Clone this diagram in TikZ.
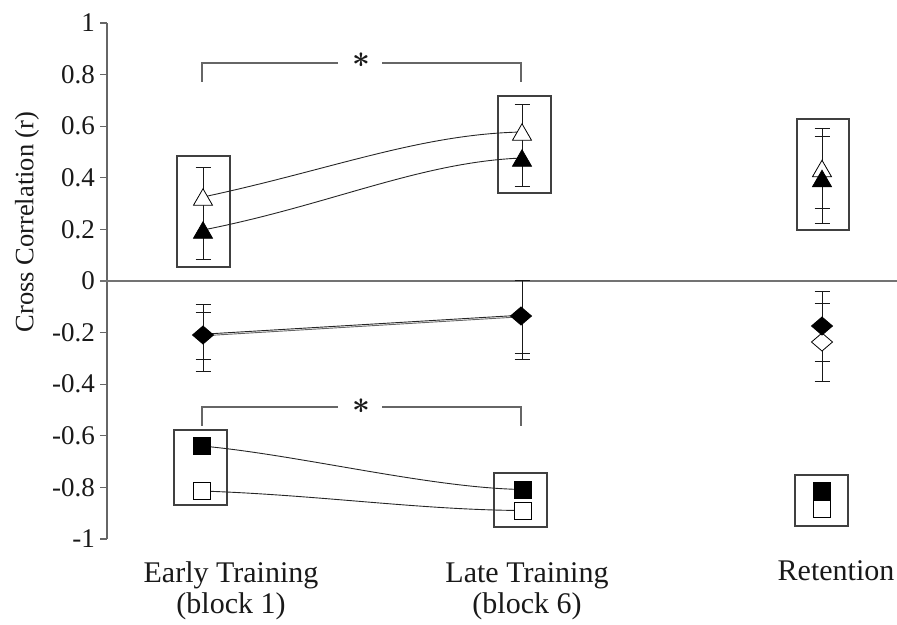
\documentclass[tikz,border=0pt]{standalone}
\usepackage{amsmath}
\usepackage{fontspec}
\setmainfont{Liberation Serif}
\usetikzlibrary{shapes.geometric}
\begin{document}
\begin{tikzpicture}[x=1pt,y=-1pt,
  axisline/.style={draw=black!60, line width=1.3pt},
  zeroline/.style={draw=black!55, line width=2pt},
  grpbox/.style={draw=black!75, line width=1.2pt},
  errbar/.style={draw=black!90, line width=0.9pt},
  bracket/.style={draw=black!60, line width=1.2pt},
  link/.style={draw=black!85, line width=0.9pt},
  tri/.style={regular polygon, regular polygon sides=3, minimum size=22pt,
    inner sep=0pt, outer sep=0pt, draw=black, line width=0.8pt, yshift=-2.75pt},
  trifill/.style={tri, fill=black},
  triopen/.style={tri, fill=white},
  dia/.style={diamond, minimum width=21pt, minimum height=18pt, inner sep=0pt,
    outer sep=0pt, draw=black, line width=0.8pt},
  diafill/.style={dia, fill=black},
  diaopen/.style={dia, fill=white},
  sq/.style={rectangle, minimum size=17pt, inner sep=0pt, outer sep=0pt,
    draw=black, line width=0.8pt},
  sqfill/.style={sq, fill=black},
  sqopen/.style={sq, fill=white},
  ticklab/.style={anchor=east, inner sep=0pt, text=black!90,
    font=\fontsize{27}{27}\selectfont},
  catlab/.style={anchor=base, inner sep=0pt, text=black!90,
    font=\fontsize{30}{30}\selectfont},
  star/.style={inner sep=0pt, scale=3.1, text=black!90},
]
\useasboundingbox (0,0) rectangle (897,624);

% y axis with ticks every 0.2 (0 at y=281, 258 px per unit)
\draw[axisline] (107,23) -- (107,539);
\foreach \v/\t in {1/1,0.8/0.8,0.6/0.6,0.4/0.4,0.2/0.2,0/0,
                   -0.2/-0.2,-0.4/-0.4,-0.6/-0.6,-0.8/-0.8,-1/-1}{
  \draw[axisline] (100,{281-258*\v}) -- (107,{281-258*\v});
  \node[ticklab] at (95,{281-258*\v}) {\t};
}
\draw[zeroline] (100,281) -- (897,281);
\node[rotate=90, text=black!90, font=\fontsize{26.5}{26.5}\selectfont]
  (ylab) at (27,222) {Cross Correlation (r)};

% category labels
\node[catlab] (catE1) at (231,582) {Early Training};
\node[catlab] (catE2) at (231,613) {(block 1)};
\node[catlab] (catL1) at (527,582) {Late Training};
\node[catlab] (catL2) at (527,613) {(block 6)};
\node[catlab] (catR1) at (836,580) {Retention};

% group boxes
\draw[grpbox] (177,156) rectangle (230,267);
\draw[grpbox] (498,96) rectangle (551,193);
\draw[grpbox] (797,119) rectangle (849,230);
\draw[grpbox] (174,430) rectangle (227,505);
\draw[grpbox] (494,473) rectangle (547,527);
\draw[grpbox] (795,475) rectangle (848,526);

% significance brackets
\draw[bracket] (338,63) -- (202,63) -- (202,82);
\draw[bracket] (382,63) -- (521,63) -- (521,82);
\node[star] (starT) at (361,60) {$\boldsymbol{\ast}$};
\draw[bracket] (338,407) -- (202,407) -- (202,426);
\draw[bracket] (382,407) -- (521,407) -- (521,426);
\node[star] (starB) at (361,406) {$\boldsymbol{\ast}$};

% error bars: x, top, bottom, cap positions
\foreach \x/\a/\b/\caps in {
    203/167/259/{167,259},
    522/104/186/{104,186},
    822/128/223/{128,136,208,223},
    203/304/371/{304,312,359,371},
    522/280/359/{280,353,359},
    822/291/381/{291,303,361,381}}{
  \draw[errbar] (\x,\a) -- (\x,\b);
  \foreach \c in \caps { \draw[errbar] (\x-7.5,\c) -- (\x+7.5,\c); }
}

% data points
\coordinate (eTo) at (203,197);
\coordinate (eTf) at (203,230);
\coordinate (lTo) at (522,132);
\coordinate (lTf) at (522,158);
\coordinate (rTo) at (822,168.5);
\coordinate (rTf) at (822,178.5);
\coordinate (eD) at (203,335);
\coordinate (lD) at (521,316);
\coordinate (rDf) at (822,326);
\coordinate (rDo) at (822,342);
\coordinate (eSf) at (202,446);
\coordinate (eSo) at (202,491);
\coordinate (lSf) at (523,489.5);
\coordinate (lSo) at (523,510.5);
\coordinate (rSf) at (822,490.5);
\coordinate (rSo) at (822,508.5);

% connecting lines between blocks
\draw[link] (eTo) .. controls (330,170) and (420,134) .. (lTo);
\draw[link] (eTf) .. controls (330,205) and (420,162) .. (lTf);
\draw[link] ([yshift=0.8pt]eD) -- ([yshift=0.8pt]lD);
\draw[link, draw=black!60] ([yshift=-0.8pt]eD) -- ([yshift=-0.8pt]lD);
\draw[link] (eSf) .. controls (300,455) and (430,488) .. (lSf);
\draw[link] (eSo) .. controls (320,495) and (420,510) .. (lSo);

% markers
\node[triopen] (mEto) at (eTo) {};
\node[trifill] (mEtf) at (eTf) {};
\node[triopen] (mLto) at (lTo) {};
\node[trifill] (mLtf) at (lTf) {};
\node[triopen] (mRto) at (rTo) {};
\node[trifill] (mRtf) at (rTf) {};
\node[diafill] (mEd) at (eD) {};
\node[diafill] (mLd) at (lD) {};
\node[diaopen] (mRdo) at (rDo) {};
\node[diafill] (mRdf) at (rDf) {};
\node[sqfill] (mEsf) at (eSf) {};
\node[sqopen] (mEso) at (eSo) {};
\node[sqfill] (mLsf) at (lSf) {};
\node[sqopen] (mLso) at (lSo) {};
\node[sqopen] (mRso) at (rSo) {};
\node[sqfill] (mRsf) at (rSf) {};
\end{tikzpicture}
\end{document}
